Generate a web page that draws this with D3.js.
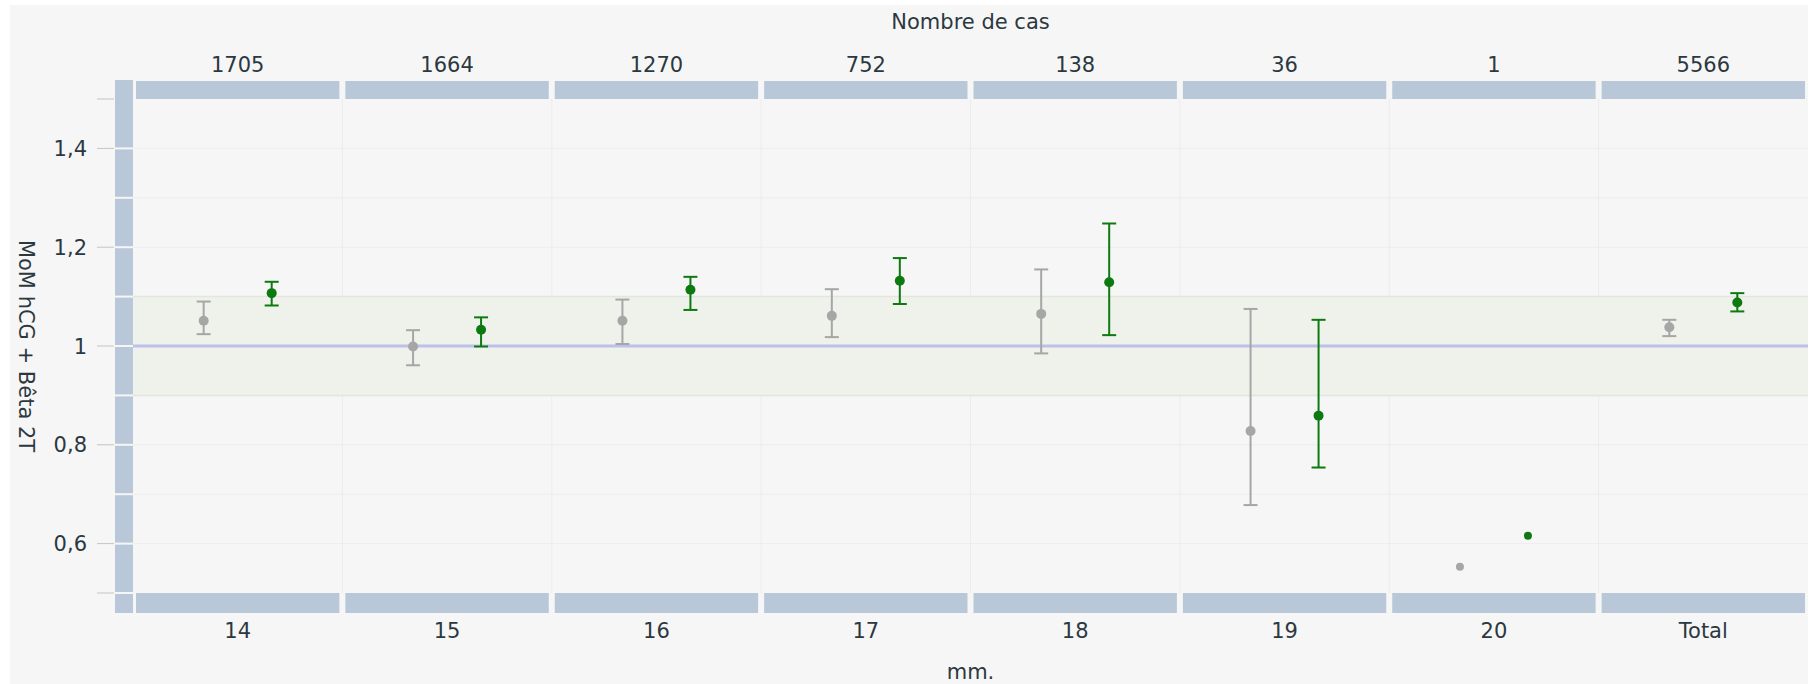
<!DOCTYPE html>
<html>
<head>
<meta charset="utf-8">
<script src="https://cdn.jsdelivr.net/npm/d3@7"></script>
<style>
  html, body { margin: 0; padding: 0; background: #ffffff; }
  svg { display: block; }
  text { font-family: "DejaVu Sans", Verdana, sans-serif; fill: #2c3840; }
</style>
</head>
<body>
<svg id="chart" width="1814" height="684"></svg>
<script>
// Gestational length classes (mm.) and number of cases per class
const categories = ["14", "15", "16", "17", "18", "19", "20", "Total"];
const caseCounts = [1705, 1664, 1270, 752, 138, 36, 1, 5566];

// Series 1 (grey): MoM mean with confidence interval
const greyMean = [1.051, 0.999, 1.051, 1.061, 1.065, 0.828, 0.553, 1.038];
const greyLow  = [1.024, 0.961, 1.004, 1.018, 0.985, 0.678, null, 1.020];
const greyHigh = [1.090, 1.032, 1.094, 1.115, 1.155, 1.075, null, 1.053];

// Series 2 (green): MoM mean with confidence interval
const greenMean = [1.107, 1.033, 1.114, 1.132, 1.129, 0.859, 0.616, 1.088];
const greenLow  = [1.082, 0.999, 1.073, 1.085, 1.022, 0.754, null, 1.070];
const greenHigh = [1.130, 1.058, 1.140, 1.178, 1.248, 1.053, null, 1.107];

// Y axis
const yTickValues = [1.4, 1.2, 1.0, 0.8, 0.6];
const yTickMarks = [1.5, 1.4, 1.2, 1.0, 0.8, 0.6, 0.5];
const yDomain = [0.5, 1.5];
const refLine = 1.0;
const refBand = [0.9, 1.1];

const seriesNames = ["grey", "green"];
const seriesColor = { grey: "#a6a6a6", green: "#0c7a10" };

const svg = d3.select("#chart");
const W = 1814, H = 684;

const plot = { left: 133, right: 1808, top: 99, bottom: 593 };

const x = d3.scaleBand().domain(categories).range([plot.left, plot.right]).paddingInner(0).paddingOuter(0);
const sub = d3.scalePoint().domain(seriesNames).range([-34, 34]);
const y = d3.scaleLinear().domain(yDomain).range([plot.bottom, plot.top]);

// panel background
svg.append("rect").attr("x", 10).attr("y", 5).attr("width", 1798).attr("height", H - 5).attr("fill", "#f6f6f6");

// horizontal grid every 0.1
const gridVals = d3.range(6, 15).map(d => d / 10);
svg.append("g").selectAll("line").data(gridVals).join("line")
  .attr("x1", plot.left).attr("x2", plot.right)
  .attr("y1", d => y(d)).attr("y2", d => y(d))
  .attr("stroke", "#ededed").attr("stroke-width", 1);

// vertical grid at category boundaries
svg.append("g").selectAll("line").data(categories.slice(1)).join("line")
  .attr("x1", d => x(d)).attr("x2", d => x(d))
  .attr("y1", plot.top).attr("y2", plot.bottom)
  .attr("stroke", "#ececec").attr("stroke-width", 1);

// reference band 0.9 - 1.1
svg.append("rect")
  .attr("x", plot.left).attr("width", plot.right - plot.left)
  .attr("y", y(refBand[1])).attr("height", y(refBand[0]) - y(refBand[1]))
  .attr("fill", "#eef2ea");
svg.append("g").selectAll("line").data(refBand).join("line")
  .attr("x1", plot.left).attr("x2", plot.right)
  .attr("y1", d => y(d)).attr("y2", d => y(d))
  .attr("stroke", "#e2e6de").attr("stroke-width", 1.5);

// reference line at 1
svg.append("line")
  .attr("x1", plot.left).attr("x2", plot.right)
  .attr("y1", y(refLine)).attr("y2", y(refLine))
  .attr("stroke", "#bcc0ea").attr("stroke-width", 3);

// facet strips (top and bottom)
const stripFill = "#b9c8d8";
svg.append("g").selectAll("rect").data(categories).join("rect")
  .attr("x", d => x(d) + 3).attr("width", x.bandwidth() - 6)
  .attr("y", 81).attr("height", plot.top - 81)
  .attr("fill", stripFill);
svg.append("g").selectAll("rect").data(categories).join("rect")
  .attr("x", d => x(d) + 3).attr("width", x.bandwidth() - 6)
  .attr("y", plot.bottom).attr("height", 613 - plot.bottom)
  .attr("fill", stripFill);

// y strip, split every 0.1
svg.append("rect").attr("x", 115).attr("width", 18).attr("y", 80).attr("height", 613 - 80).attr("fill", stripFill);
const ySeps = d3.range(5, 15).map(d => d / 10);
svg.append("g").selectAll("line").data(ySeps).join("line")
  .attr("x1", 115).attr("x2", 133)
  .attr("y1", d => y(d)).attr("y2", d => y(d))
  .attr("stroke", "#f6f6f6").attr("stroke-width", 2);

// y tick marks and labels
svg.append("g").selectAll("line").data(yTickMarks).join("line")
  .attr("x1", 97).attr("x2", 114)
  .attr("y1", d => y(d)).attr("y2", d => y(d))
  .attr("stroke", "#c4c4c4").attr("stroke-width", 1);
const fmt = v => (Math.abs(v - 1) < 1e-9 ? "1" : d3.format(".1f")(v).replace(".", ","));
svg.append("g").selectAll("text").data(yTickValues).join("text")
  .attr("x", 87).attr("y", d => y(d))
  .attr("dy", "0.36em").attr("text-anchor", "end")
  .style("font-size", "21px")
  .text(fmt);

// top labels: number of cases
svg.append("g").selectAll("text").data(categories).join("text")
  .attr("x", d => x(d) + x.bandwidth() / 2).attr("y", 72)
  .attr("text-anchor", "middle").style("font-size", "21px")
  .text((d, i) => caseCounts[i]);

// bottom labels: categories
svg.append("g").selectAll("text").data(categories).join("text")
  .attr("x", d => x(d) + x.bandwidth() / 2).attr("y", 638)
  .attr("text-anchor", "middle").style("font-size", "21px")
  .text(d => d);

// axis titles
const cx = (plot.left + plot.right) / 2;
svg.append("text").attr("x", cx).attr("y", 29).attr("text-anchor", "middle")
  .style("font-size", "21px").text("Nombre de cas");
svg.append("text").attr("x", cx).attr("y", 679).attr("text-anchor", "middle")
  .style("font-size", "21px").text("mm.");
svg.append("text")
  .attr("transform", `translate(27,${(plot.top + plot.bottom) / 2}) rotate(90)`)
  .attr("text-anchor", "middle").attr("dy", "0.36em")
  .style("font-size", "21px").text("MoM hCG + Bêta 2T");

// points with error bars
const series = [
  { name: "grey", mean: greyMean, low: greyLow, high: greyHigh },
  { name: "green", mean: greenMean, low: greenLow, high: greenHigh }
];
series.forEach(s => {
  const rows = categories.map((c, i) => ({ c, m: s.mean[i], lo: s.low[i], hi: s.high[i] }));
  const g = svg.append("g");
  const px = d => x(d.c) + x.bandwidth() / 2 + sub(s.name);
  const withBars = rows.filter(d => d.lo != null && d.hi != null);
  g.selectAll("line.v").data(withBars).join("line")
    .attr("x1", px).attr("x2", px)
    .attr("y1", d => y(d.hi)).attr("y2", d => y(d.lo))
    .attr("stroke", seriesColor[s.name]).attr("stroke-width", 2);
  ["hi", "lo"].forEach(k => {
    g.selectAll("line.c" + k).data(withBars).join("line")
      .attr("x1", d => px(d) - 7).attr("x2", d => px(d) + 7)
      .attr("y1", d => y(d[k])).attr("y2", d => y(d[k]))
      .attr("stroke", seriesColor[s.name]).attr("stroke-width", 2);
  });
  g.selectAll("circle").data(rows).join("circle")
    .attr("cx", px).attr("cy", d => y(d.m))
    .attr("r", d => (d.lo == null ? 4 : 5))
    .attr("fill", seriesColor[s.name]);
});
</script>
</body>
</html>
